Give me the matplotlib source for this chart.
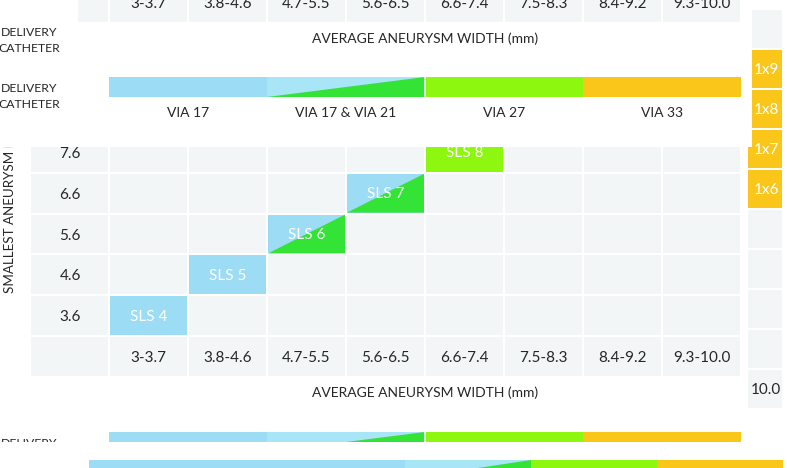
import matplotlib
matplotlib.use('Agg')
import matplotlib.pyplot as plt
from matplotlib.patches import Rectangle, Polygon
from matplotlib.transforms import Bbox, TransformedBbox

# ---------------- data ----------------
width_ranges = ['3-3.7', '3.8-4.6', '4.7-5.5', '5.6-6.5', '6.6-7.4', '7.5-8.3', '8.4-9.2', '9.3-10.0']
height_values = ['3.6', '4.6', '5.6', '6.6', '7.6']
sls_labels = ['SLS 4', 'SLS 5', 'SLS 6', 'SLS 7', 'SLS 8']
sls_cols = [0, 1, 2, 3, 4]
sls_rows = [0, 1, 2, 3, 4]
sls_style = ['blue', 'blue', 'split', 'split', 'lime']
catheters = ['VIA 17', 'VIA 17 & VIA 21', 'VIA 27', 'VIA 33']
catheter_bounds = [0, 2, 4, 6, 8]
catheter_style = ['blue', 'split', 'lime', 'orange']
panel_labels = ['', '1x9', '1x8', '1x7', '1x6', '', '', '', '', '10.0']
panel_fill = ['cell', 'orange', 'orange', 'orange', 'orange', 'cell', 'cell', 'cell', 'cell', 'cell']
x_title = 'AVERAGE ANEURYSM WIDTH (mm)'
y_title = 'SMALLEST ANEURYSM H'   # visible part of the (cut) axis title
cath_title = ['DELIVERY', 'CATHETER']

# ---------------- style ----------------
BLUE = '#9ddcf5'
BLUE_L = '#a8e5f7'
GREEN = '#33e436'
LIME = '#8ef710'
ORANGE = '#fac61a'
CELL = '#f3f6f7'
TXT = '#262626'
FUT = 'Lato'
CAL = 'Lato'
COLORS = {'blue': BLUE, 'lime': LIME, 'orange': ORANGE, 'cell': CELL}

W, H = 787, 468
fig = plt.figure(figsize=(W / 100, H / 100), dpi=100)
ax = fig.add_axes([0, 0, 1, 1])
ax.set_xlim(0, W)
ax.set_ylim(H, 0)
ax.axis('off')

# grid geometry
GX0, CP = 109.0, 79.0      # first data column left edge, column pitch
LAB_L = 31.0               # label column left edge
LT, RP = 337.0, 40.8       # label-row top, row pitch
GAP = 2.0


def col_x(i):
    return GX0 + i * CP + 1, CP - GAP


def rect(x, y, w, h, color, z):
    ax.add_patch(Rectangle((x, y), w, h, facecolor=color, edgecolor='none', zorder=z))


def split_cell(x, y, w, h, top_color, tri_color, z):
    rect(x, y, w, h, top_color, z)
    ax.add_patch(Polygon([(x, y + h), (x + w, y), (x + w, y + h)], closed=True,
                         facecolor=tri_color, edgecolor='none', zorder=z + 0.1))


def draw_label_row(top, left_edge, z):
    h = RP - GAP
    rect(left_edge, top, GX0 - 1 - left_edge, h, CELL, z)
    for i, lab in enumerate(width_ranges):
        x, w = col_x(i)
        rect(x, top, w, h, CELL, z)
        ax.text(x + w / 2, top + h / 2 + 5.5, lab, ha='center', va='baseline',
                fontsize=11, family=FUT, color=TXT, zorder=z + 1)


def draw_cath_title(baseline, z, lines=cath_title):
    for j, line in enumerate(lines):
        ax.text(29.5, baseline + 16 * j, line, ha='center', va='baseline', fontsize=8.8,
                family=CAL, color=TXT, zorder=z)


def draw_cath_bar(bounds_px, top, h, z, labels=True, gap_after_split=True, left_override=None):
    for k, st in enumerate(catheter_style):
        x0, x1 = bounds_px[k], bounds_px[k + 1]
        if k == 0 and left_override is not None:
            x0 = left_override
        if st == 'split':
            split_cell(x0, top, x1 - x0, h, BLUE_L, GREEN, z)
        else:
            rect(x0, top, x1 - x0, h, COLORS[st], z)
        if labels:
            ax.text((bounds_px[k] + x1) / 2, top + h + 20, catheters[k], ha='center',
                    va='baseline', fontsize=10, family=CAL, color=TXT, zorder=z)
    if gap_after_split:
        xs = bounds_px[catheter_style.index('split') + 1]
        ax.plot([xs, xs], [top, top + h], color='white', lw=1.2, zorder=z + 0.5)


# ---------------- main grid ----------------
draw_label_row(LT, LAB_L, 1)
for r, hv in enumerate(height_values):
    top = LT - (r + 1) * RP
    h = RP - GAP
    rect(LAB_L, top, GX0 - 1 - LAB_L, h, CELL, 1)
    ax.text((LAB_L + GX0) / 2, top + h / 2 + 5.5, hv, ha='center', va='baseline',
            fontsize=11, family=FUT, color=TXT, zorder=2)
    for i in range(len(width_ranges)):
        x, w = col_x(i)
        rect(x, top, w, h, CELL, 1)

for lab, c, r, st in zip(sls_labels, sls_cols, sls_rows, sls_style):
    x, w = col_x(c)
    top = LT - (r + 1) * RP
    h = RP - GAP
    if st == 'split':
        split_cell(x, top, w, h, BLUE, GREEN, 2)
    else:
        rect(x, top, w, h, COLORS[st], 2)
    ax.text(x + w / 2, top + h / 2 + 5, lab, ha='center', va='baseline',
            fontsize=11, family=FUT, color='white', zorder=3)

# y title, only its lower part is visible below the upper overlay
yt = ax.text(10, 293, y_title, rotation=90, ha='center', va='bottom',
             fontsize=9.6, family=CAL, color=TXT, zorder=2)
yt.set_clip_box(TransformedBbox(Bbox([[0, 147], [30, 300]]), ax.transData))
yt.set_clip_on(True)

# right side panel
PX, PW, PT, PP = 748.0, 34.0, 10.0, 40.0
for k, (lab, fill) in enumerate(zip(panel_labels, panel_fill)):
    top = PT + k * PP
    rect(PX, top, PW, PP - GAP, COLORS[fill], 2)

# white cover over upper area
rect(0, 0, 752, 147, 'white', 5)

# ---------------- upper overlay ----------------
draw_label_row(22 - (RP - GAP), 78, 6)
draw_cath_title(36, 6)
ax.text(425, 43, x_title, ha='center', va='baseline', fontsize=10,
        family=CAL, color=TXT, zorder=6)
bar_px = [GX0 + b * CP for b in catheter_bounds]
draw_cath_bar(bar_px, 77, 20, 6)
draw_cath_title(92, 6)

for k, lab in enumerate(panel_labels):
    if not lab:
        continue
    top = PT + k * PP
    col = 'white' if panel_fill[k] == 'orange' else TXT
    ax.text(PX + PW / 2 + 1, top + (PP - GAP) / 2 + 5, lab, ha='center', va='baseline',
            fontsize=11, family=FUT, color=col, zorder=7)

# ---------------- lower overlay ----------------
ax.text(425, 397, x_title, ha='center', va='baseline', fontsize=10,
        family=CAL, color=TXT, zorder=6)
draw_cath_bar(bar_px, 432, 20, 6, labels=False)
draw_cath_title(447, 6, lines=cath_title[:1])
rect(0, 442, W, H - 442, 'white', 8)
CP2, O2 = 63.0, 279.0
bar2_px = [O2 + b * CP2 for b in catheter_bounds]
draw_cath_bar(bar2_px, 460, 19, 9, labels=False, gap_after_split=False, left_override=89)

fig.savefig('out.png', dpi=100)
